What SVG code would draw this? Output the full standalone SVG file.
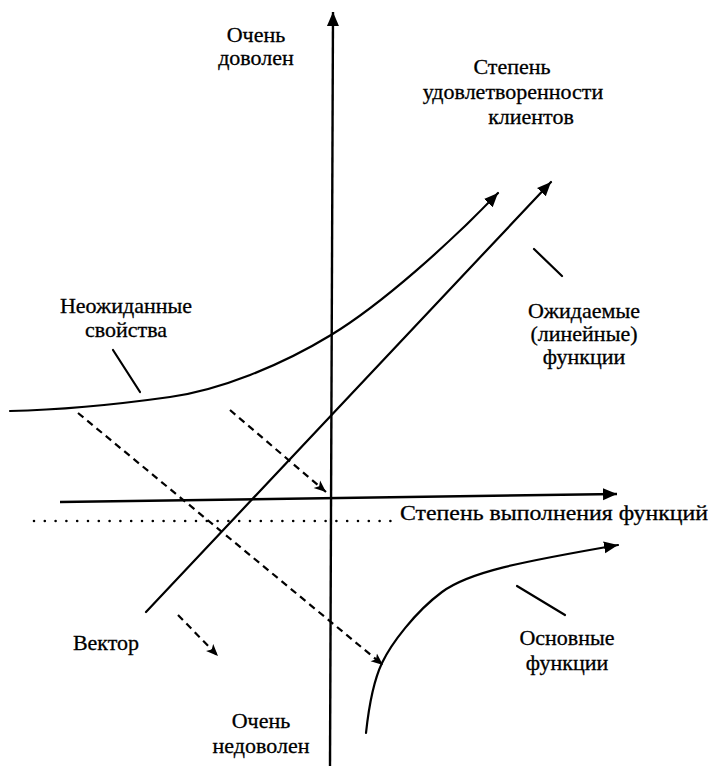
<svg xmlns="http://www.w3.org/2000/svg" width="710" height="766" viewBox="0 0 710 766" font-family="Liberation Serif, Times New Roman, DejaVu Serif, serif">
<style>
  text { font-size: 22px; fill: #000; stroke: #000; stroke-width: 0.3; }
  .c { text-anchor: middle; }
  .ln { fill: none; stroke: #000; stroke-width: 2.2; stroke-linecap: round; }
  .ax { fill: none; stroke: #000; stroke-width: 2.4; }
  .dash { fill: none; stroke: #000; stroke-width: 2.2; stroke-dasharray: 7 5; }
  .dot { fill: none; stroke: #000; stroke-width: 2.6; stroke-dasharray: 0 10.8; stroke-linecap: round; }
</style>
<defs>
  <marker id="ah" markerUnits="userSpaceOnUse" markerWidth="16" markerHeight="14" refX="14" refY="6" orient="auto" viewBox="0 0 16 12">
    <path d="M0,0 L14,6 L0,12 Z" fill="#000"/>
  </marker>
  <marker id="ahs" markerUnits="userSpaceOnUse" markerWidth="14" markerHeight="12" refX="12" refY="5" orient="auto" viewBox="0 0 14 10">
    <path d="M0,0 L12,5 L0,10 L3,5 Z" fill="#000"/>
  </marker>
</defs>
<g id="connectors">
  <path id="y-axis" class="ax" d="M330,766 L333,12" marker-end="url(#ah)"/>
  <path id="x-axis" class="ax" d="M60,502 L617,494" marker-end="url(#ah)"/>
  <path id="dotted" class="dot" d="M34,521 L398,521"/>
  <path id="curve-unexpected" class="ln" d="M10,411 C60,410 120,404 170,397 S280,366 331,335 S450,243 498,193" marker-end="url(#ah)"/>
  <path id="line-expected" class="ln" d="M146,612 L551,182" marker-end="url(#ah)"/>
  <path id="curve-basic" class="ln" d="M366,733 C369,705 373,682 382,663 S415,612 442,592 S520,562 618,545" marker-end="url(#ah)"/>
  <path class="dash" d="M78,413 L383,665" marker-end="url(#ahs)"/>
  <path class="dash" d="M230,410 L326,492" marker-end="url(#ahs)"/>
  <path class="dash" d="M178,615 L218,656" marker-end="url(#ahs)"/>
  <path class="ln" d="M113,350 L140,392"/>
  <path class="ln" d="M534,249 L562,276"/>
  <path class="ln" d="M517,586 L565,615"/>
</g>
<g id="label-very-satisfied">
  <text class="c" x="256" y="42">Очень</text>
  <text class="c" x="256" y="65">доволен</text>
</g>
<g id="label-satisfaction">
  <text class="c" x="512" y="74">Степень</text>
  <text class="c" x="513" y="99">удовлетворенности</text>
  <text class="c" x="531" y="124">клиентов</text>
</g>
<g id="label-unexpected">
  <text class="c" x="126" y="313">Неожиданные</text>
  <text class="c" x="126" y="337">свойства</text>
</g>
<g id="label-expected">
  <text class="c" x="584" y="318">Ожидаемые</text>
  <text class="c" x="584" y="341">(линейные)</text>
  <text class="c" x="584" y="364">функции</text>
</g>
<g id="label-performance">
  <text x="400" y="520" textLength="308" lengthAdjust="spacingAndGlyphs">Степень выполнения функций</text>
</g>
<g id="label-vector">
  <text class="c" x="106" y="650">Вектор</text>
</g>
<g id="label-basic">
  <text class="c" x="567" y="645">Основные</text>
  <text class="c" x="567" y="670">функции</text>
</g>
<g id="label-very-dissatisfied">
  <text class="c" x="261" y="728">Очень</text>
  <text class="c" x="261" y="753">недоволен</text>
</g>
</svg>
